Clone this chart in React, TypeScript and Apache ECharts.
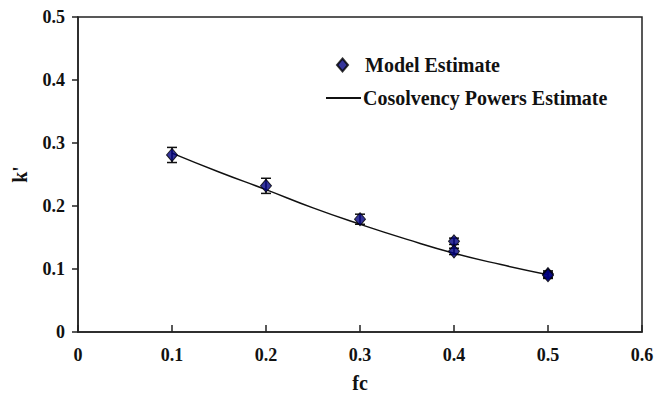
import React, { useEffect, useRef } from "react";
import * as echarts from "echarts";

const modelFc = [0.1, 0.2, 0.3, 0.4, 0.4, 0.5, 0.5];
const modelK = [0.281, 0.232, 0.179, 0.144, 0.128, 0.092, 0.09];
const modelErr = [0.012, 0.012, 0.008, 0.005, 0.005, 0.005, 0.005];

const powersFc = [0.1, 0.15, 0.2, 0.25, 0.3, 0.35, 0.4, 0.45, 0.5];
const powersK = [0.284, 0.254, 0.226, 0.197, 0.171, 0.147, 0.125, 0.107, 0.091];

const xTicks = [0, 0.1, 0.2, 0.3, 0.4, 0.5, 0.6];
const yTicks = [0, 0.1, 0.2, 0.3, 0.4, 0.5];

const FONT = "'Liberation Serif', 'Times New Roman', serif";
const textStyle = { fontFamily: FONT, fontWeight: "bold", fontSize: 20, color: "#111" };

export default function App() {
  const ref = useRef<HTMLDivElement>(null);
  useEffect(() => {
    if (!ref.current) return;
    const chart = echarts.init(ref.current, null, { renderer: "svg" });
    const errData = modelFc.map((x, i) => [x, modelK[i] - modelErr[i], modelK[i] + modelErr[i]]);
    chart.setOption({
      animation: false,
      backgroundColor: "#ffffff",
      grid: {
        left: 78,
        right: 14,
        top: 17,
        bottom: 65,
        outerBoundsMode: "none",
        containLabel: false,
        show: true,
        borderColor: "#222",
        borderWidth: 1.5,
        backgroundColor: "transparent",
      },
      legend: [
        {
          left: 331,
          top: 50,
          itemWidth: 11,
          itemHeight: 13,
          itemGap: 0,
          textStyle: { ...textStyle, padding: [0, 0, 0, 12] },
          data: [{ name: "Model Estimate", icon: "diamond" }],
        },
        {
          left: 321,
          top: 83,
          itemWidth: 35,
          itemHeight: 2,
          textStyle: { ...textStyle, padding: [0, 0, 0, -3] },
          data: [{ name: "Cosolvency Powers Estimate", icon: "rect" }],
        },
      ],
      xAxis: {
        type: "value",
        min: 0,
        max: 0.6,
        interval: 0.1,
        name: "fc",
        nameLocation: "middle",
        nameGap: 41,
        nameTextStyle: textStyle,
        axisLine: { show: true, lineStyle: { color: "#222", width: 1.5 } },
        axisTick: { show: true, inside: true, length: 7, lineStyle: { color: "#222", width: 1.5 } },
        axisLabel: {
          fontFamily: FONT,
          fontWeight: "bold",
          fontSize: 18,
          color: "#111",
          margin: 14,
          formatter: (v: number) => {
            const t = xTicks.find((x) => Math.abs(x - v) < 1e-9);
            return t === undefined ? "" : String(t);
          },
        },
        splitLine: { show: false },
      },
      yAxis: {
        type: "value",
        min: 0,
        max: 0.5,
        interval: 0.1,
        name: "k'",
        nameLocation: "middle",
        nameGap: 48,
        nameTextStyle: textStyle,
        axisLine: { show: true, lineStyle: { color: "#222", width: 1.5 } },
        axisTick: { show: true, inside: false, length: 6, lineStyle: { color: "#222", width: 1.5 } },
        axisLabel: {
          fontFamily: FONT,
          fontWeight: "bold",
          fontSize: 18,
          color: "#111",
          margin: 13,
          formatter: (v: number) => {
            const t = yTicks.find((x) => Math.abs(x - v) < 1e-9);
            return t === undefined ? "" : String(t);
          },
        },
        splitLine: { show: false },
      },
      series: [
        {
          name: "Cosolvency Powers Estimate",
          type: "line",
          data: powersFc.map((x, i) => [x, powersK[i]]),
          smooth: true,
          showSymbol: false,
          symbol: "none",
          lineStyle: { color: "#111", width: 1.5 },
          itemStyle: { color: "#111" },
          z: 2,
        },
        {
          name: "errors",
          type: "custom",
          data: errData,
          renderItem: (params: any, api: any) => {
            const x = api.value(0);
            const lo = api.coord([x, api.value(1)]);
            const hi = api.coord([x, api.value(2)]);
            const cap = 5;
            const st = { stroke: "#111", lineWidth: 1.5 };
            return {
              type: "group",
              children: [
                { type: "line", shape: { x1: lo[0], y1: lo[1], x2: hi[0], y2: hi[1] }, style: st },
                { type: "line", shape: { x1: hi[0] - cap, y1: hi[1], x2: hi[0] + cap, y2: hi[1] }, style: st },
                { type: "line", shape: { x1: lo[0] - cap, y1: lo[1], x2: lo[0] + cap, y2: lo[1] }, style: st },
              ],
            };
          },
          z: 3,
        },
        {
          name: "Model Estimate",
          type: "scatter",
          data: modelFc.map((x, i) => [x, modelK[i]]),
          symbol: "diamond",
          symbolSize: [11, 13],
          itemStyle: { color: "#000080", borderColor: "#000", borderWidth: 1 },
          z: 4,
        },
      ],
    });
    return () => chart.dispose();
  }, []);
  return (
    <div
      ref={ref}
      style={{ position: "fixed", left: 0, top: 0, width: 656, height: 397 }}
    />
  );
}
